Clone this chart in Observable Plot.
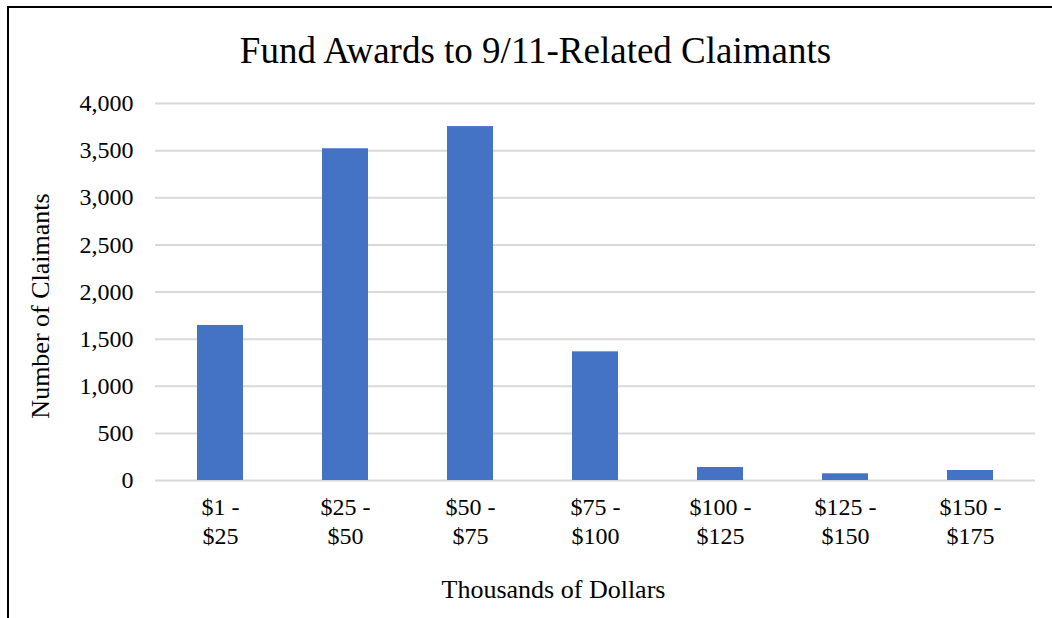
<!DOCTYPE html>
<html>
<head>
<meta charset="utf-8">
<script src="https://cdn.jsdelivr.net/npm/d3@7"></script>
<script src="https://cdn.jsdelivr.net/npm/@observablehq/plot@0.6"></script>
<style>
  html, body { margin: 0; padding: 0; background: #fff; overflow: hidden; }
  #wrap { position: relative; width: 1052px; height: 618px; overflow: hidden; }
  #frame { position: absolute; left: 7px; top: 6px; width: 1100px; height: 700px; border: 2px solid #000; box-sizing: border-box; }
  #chart { position: absolute; left: 0; top: 0; }
</style>
</head>
<body>
<div id="wrap"><div id="frame"></div><div id="chart"></div></div>
<script>
const title = "Fund Awards to 9/11-Related Claimants";
const xLabel = "Thousands of Dollars";
const yLabel = "Number of Claimants";
const categories = ["$1 -\n$25", "$25 -\n$50", "$50 -\n$75", "$75 -\n$100", "$100 -\n$125", "$125 -\n$150", "$150 -\n$175"];
const claimants = [1645, 3520, 3755, 1365, 138, 71, 106];
const yTicks = [0, 500, 1000, 1500, 2000, 2500, 3000, 3500, 4000];

const data = categories.map((c, i) => ({category: c, value: claimants[i]}));
const font = "'Liberation Serif', 'Times New Roman', serif";

const chart = Plot.plot({
  width: 1052,
  height: 618,
  marginLeft: 155,
  marginRight: 17,
  marginTop: 103,
  marginBottom: 138,
  style: {fontFamily: font, fontSize: "24px", color: "#000", background: "transparent"},
  x: {domain: categories, paddingInner: 0.634, paddingOuter: 0.317, label: null},
  y: {domain: [0, 4000], label: null},
  marks: [
    Plot.gridY(yTicks, {stroke: "#d9d9d9", strokeOpacity: 1, strokeWidth: 2}),
    Plot.barY(data, {x: "category", y: "value", fill: "#4472C4"}),
    Plot.axisY(yTicks, {tickSize: 0, tickPadding: 22, tickFormat: d3.format(","), fontSize: 24, fill: "#000", label: null}),
    Plot.axisX({tickSize: 0, tickPadding: 15, lineHeight: 1.17, fontSize: 24, fill: "#000", label: null}),
    Plot.text([title], {frameAnchor: "top", dx: -60, dy: -67, fontSize: 37, fill: "#000", text: d => d}),
    Plot.text([yLabel], {frameAnchor: "left", textAnchor: "middle", dx: -115, dy: 14, rotate: -90, fontSize: 26, fill: "#000", text: d => d}),
    Plot.text([xLabel], {frameAnchor: "bottom", dx: -42, dy: 117, fontSize: 26, fill: "#000", text: d => d})
  ]
});
document.getElementById("chart").appendChild(chart);
</script>
</body>
</html>
